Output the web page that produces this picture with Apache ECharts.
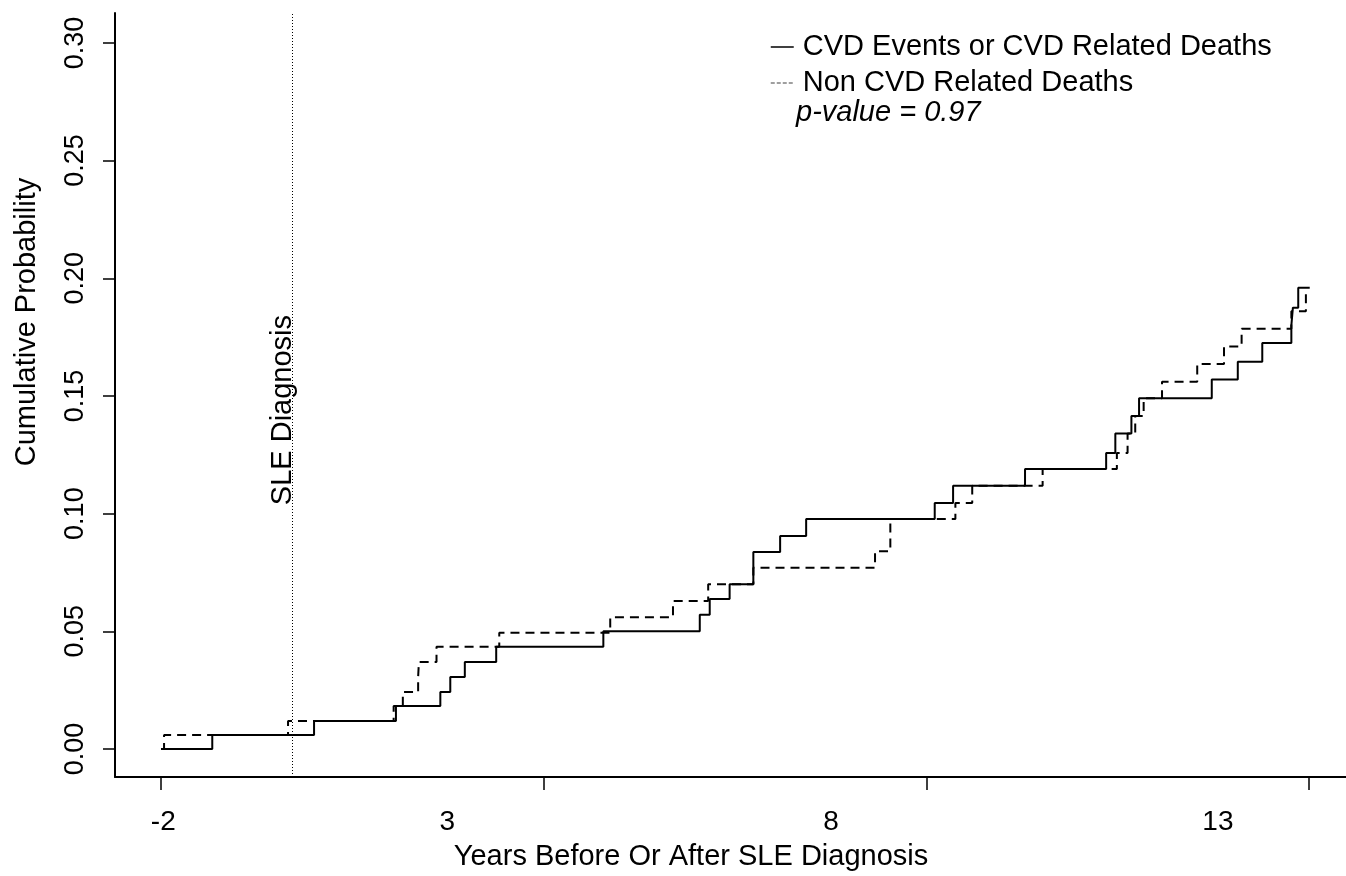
<!DOCTYPE html>
<html>
<head>
<meta charset="utf-8">
<script src="https://cdn.jsdelivr.net/npm/echarts@6/dist/echarts.min.js"></script>
<style>
  html, body { margin: 0; padding: 0; background: #fff; }
  #chart { width: 1346px; height: 876px; }
</style>
</head>
<body>
<div id="chart"></div>
<script>
// step times (years from SLE diagnosis) and cumulative probability after each step
var cvdTimes = [-2, -1.33, 0.0, 1.07, 1.65, 1.78, 1.97, 2.38, 3.78, 5.04, 5.17, 5.43, 5.74, 6.09, 6.43, 8.11, 8.35, 9.29, 10.35, 10.47, 10.68, 10.78, 11.73, 12.07, 12.39, 12.77, 12.79, 12.86];
var cvdProb  = [0, 0.0059, 0.0119, 0.0183, 0.0242, 0.0306, 0.037, 0.0434, 0.050, 0.057, 0.0637, 0.070, 0.0837, 0.0905, 0.0977, 0.1045, 0.1118, 0.119, 0.1258, 0.134, 0.1415, 0.149, 0.157, 0.1645, 0.1725, 0.180, 0.1875, 0.196];

var nonCvdTimes = [-2, -1.96, -0.34, 1.04, 1.16, 1.36, 1.37, 1.60, 2.42, 3.87, 4.69, 5.15, 5.74, 7.33, 7.53, 8.38, 8.60, 9.52, 10.49, 10.63, 10.73, 10.84, 11.08, 11.54, 11.89, 12.12, 12.77, 12.96];
var nonCvdProb  = [0, 0.0059, 0.0119, 0.0183, 0.0242, 0.0306, 0.037, 0.0434, 0.0494, 0.056, 0.0629, 0.070, 0.077, 0.084, 0.0977, 0.1045, 0.1118, 0.119, 0.1258, 0.134, 0.1415, 0.149, 0.156, 0.1636, 0.171, 0.1785, 0.186, 0.194];

var followUpEnd = 13.01;
var sleDiagnosisX = -0.28;

var xTickValues = [-2, 3, 8, 13];
var xLabelText = ['-2', '3', '8', '13'];
var xLabelAt = [-1.97, 1.74, 6.755, 11.81];
var yTickValues = [0, 0.05, 0.10, 0.15, 0.20, 0.25, 0.30];

var cvdName = 'CVD Events or CVD Related Deaths';
var nonCvdName = 'Non CVD Related Deaths';
var pValueText = 'p-value = 0.97';

var FONT = '"Liberation Sans", Arial, Helvetica, sans-serif';

function toSteps(times, probs) {
    var pts = times.map(function (t, i) { return [t, probs[i]]; });
    pts.push([followUpEnd, probs[probs.length - 1]]);
    return pts;
}

var chart = echarts.init(document.getElementById('chart'));

option = {
    backgroundColor: '#fff',
    animation: false,
    grid: { left: 115, right: 0, top: 13, bottom: 99 },
    legend: {
        orient: 'vertical',
        left: 765,
        top: 27,
        itemWidth: 23,
        itemHeight: 10,
        itemGap: 6,
        itemStyle: { opacity: 0 },
        data: [
            { name: cvdName, lineStyle: { color: '#000', width: 1.5, type: 'solid' } },
            { name: nonCvdName, lineStyle: { color: '#808080', width: 1.5, type: [4, 2] } }
        ],
        textStyle: { fontFamily: FONT, fontSize: 29, color: '#000', lineHeight: 30, padding: [0, 0, 0, 4] }
    },
    xAxis: [{
        type: 'value',
        min: -2.601,
        max: 13.484,
        splitLine: { show: false },
        axisLine: { onZero: false, lineStyle: { color: '#000', width: 2 } },
        axisTick: { show: true, customValues: xTickValues, length: 13, lineStyle: { color: '#000', width: 1.5 } },
        axisLabel: {
            customValues: xLabelAt,
            margin: 31,
            fontFamily: FONT, fontSize: 28, color: '#000',
            formatter: function (v) {
                var i = xLabelAt.indexOf(v);
                return i >= 0 ? xLabelText[i] : '';
            }
        }
    }],
    yAxis: [{
        type: 'value',
        min: -0.0119,
        max: 0.3127,
        splitLine: { show: false },
        axisLine: { show: true, onZero: false, lineStyle: { color: '#000', width: 2 } },
        axisTick: { show: true, customValues: yTickValues, length: 12, lineStyle: { color: '#000', width: 1.5 } },
        axisLabel: {
            customValues: yTickValues,
            rotate: 90,
            margin: 26,
            fontFamily: FONT, fontSize: 27, color: '#000',
            formatter: function (v) { return v.toFixed(2); }
        }
    }],
    series: [{
        name: nonCvdName,
        type: 'line',
        step: 'end',
        symbol: 'none',
        itemStyle: { color: '#000' },
        lineStyle: { color: '#000', width: 2, type: [9, 6] },
        data: toSteps(nonCvdTimes, nonCvdProb)
    }, {
        name: cvdName,
        type: 'line',
        step: 'end',
        symbol: 'none',
        itemStyle: { color: '#000' },
        lineStyle: { color: '#000', width: 2 },
        data: toSteps(cvdTimes, cvdProb),
        markLine: {
            silent: true,
            symbol: 'none',
            label: { show: false },
            lineStyle: { color: '#000', width: 1, type: [1, 2] },
            data: [{ xAxis: sleDiagnosisX }]
        }
    }]
};
chart.setOption(option);

var sleAt = chart.convertToPixel({ gridIndex: 0 }, [sleDiagnosisX, 0.144]);
chart.setOption({
    graphic: [{
        type: 'text',
        x: sleAt[0] - 10,
        y: sleAt[1],
        rotation: Math.PI / 2,
        style: { text: 'SLE Diagnosis', fontFamily: FONT, fontSize: 29, fill: '#000', align: 'center', verticalAlign: 'middle' }
    }, {
        type: 'text',
        x: 796,
        y: 113,
        style: { text: pValueText, fontFamily: FONT, fontSize: 29, fontStyle: 'italic', fill: '#000', align: 'left', verticalAlign: 'middle' }
    }, {
        type: 'text',
        x: 27,
        y: 322,
        rotation: Math.PI / 2,
        style: { text: 'Cumulative Probability', fontFamily: FONT, fontSize: 29, fill: '#000', align: 'center', verticalAlign: 'middle' }
    }, {
        type: 'text',
        x: 691,
        y: 857,
        style: { text: 'Years Before Or After SLE Diagnosis', fontFamily: FONT, fontSize: 29, fill: '#000', align: 'center', verticalAlign: 'middle' }
    }]
});
</script>
</body>
</html>
